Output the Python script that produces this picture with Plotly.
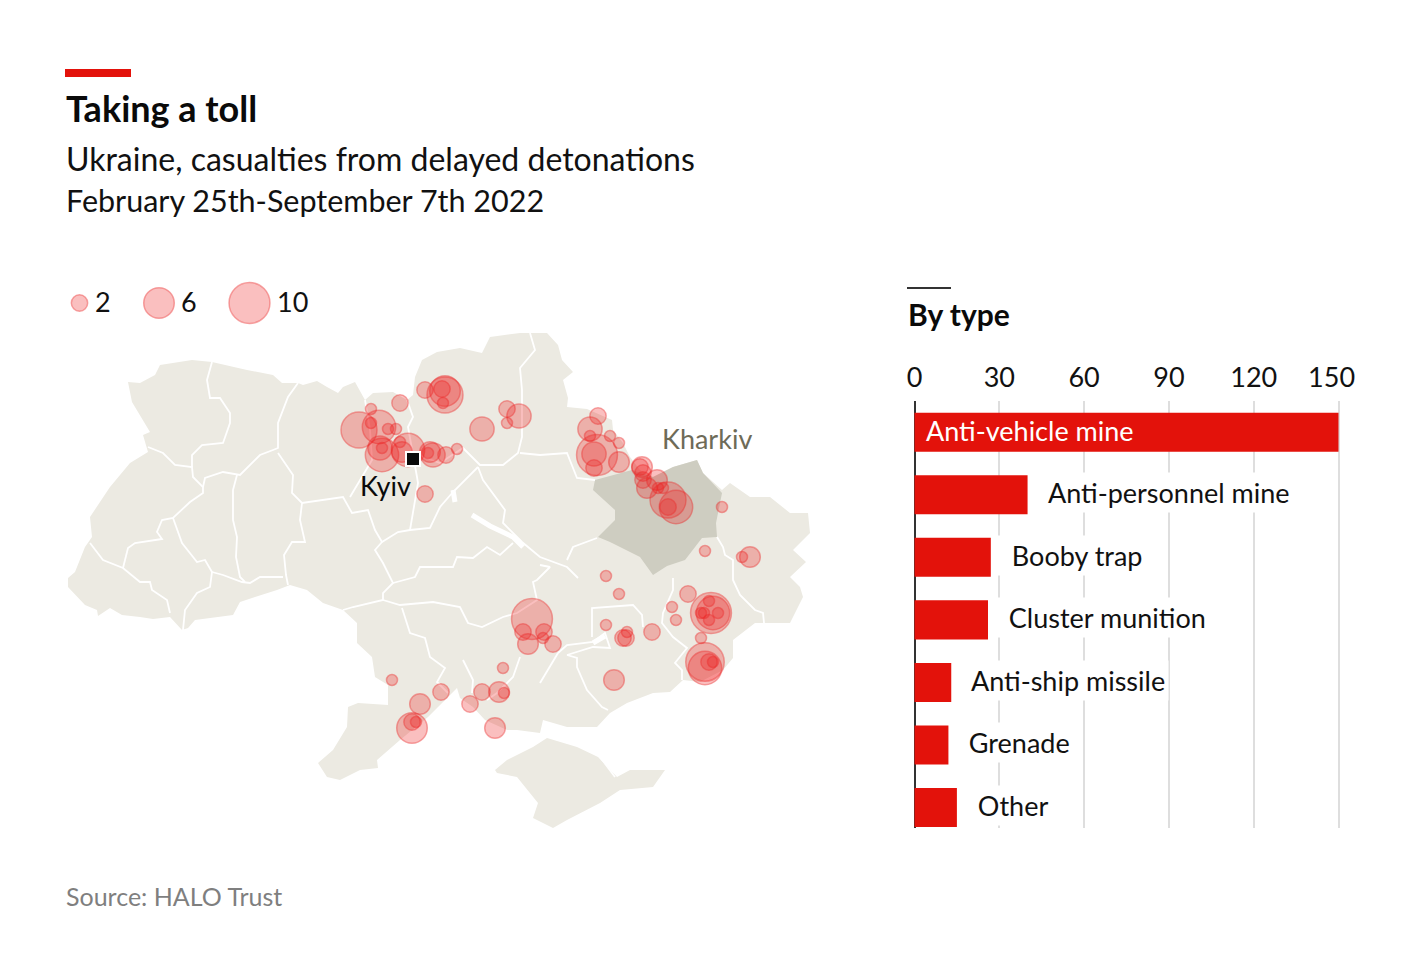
import plotly.graph_objects as go

FONT = 'Lato'
RED = '#E3120B'

# by type panel
types = ['Anti-vehicle mine', 'Anti-personnel mine', 'Booby trap', 'Cluster munition', 'Anti-ship missile', 'Grenade', 'Other']
type_counts = [150, 40, 27, 26, 13, 12, 15]
tick_vals = [0, 30, 60, 90, 120, 150]

# casualty circles, position (picture px), casualties estimated from circle area
circle_x = [359, 371, 371, 379, 400, 388, 396, 382, 380, 382, 402, 408, 400, 430, 433, 428, 446, 457, 425,
            425, 442, 445, 443, 445, 482, 507, 507, 519, 598, 590, 590, 610, 619, 597, 594, 594, 619,
            642, 640, 643, 643, 647, 657, 658, 663, 668, 676, 668, 722, 705, 750, 742,
            606, 619, 688, 672, 676, 606, 652, 627, 623, 626, 614, 532, 523, 544, 528, 543, 553,
            503, 482, 499, 504, 470, 495, 441, 392, 420, 412, 412, 416,
            711, 713, 709, 709, 718, 701, 704, 701, 705, 705, 709, 713]
circle_y = [430, 409, 423, 427, 403, 429, 429, 455, 448, 448, 452, 450, 442, 452, 455, 453, 455, 449, 494,
            390, 389, 395, 403, 391, 429, 409, 423, 416, 416, 429, 436, 436, 443, 455, 454, 468, 462,
            467, 467, 473, 480, 488, 480, 488, 488, 500, 507, 507, 507, 551, 557, 557,
            576, 594, 594, 607, 620, 625, 632, 632, 638, 638, 680, 619, 632, 632, 644, 638, 644,
            668, 692, 692, 693, 704, 728, 692, 680, 704, 728, 722, 722,
            613, 613, 601, 620, 613, 613, 613, 638, 662, 668, 662, 662]
casualties = [8, 1, 1, 7, 2, 1, 1, 7, 4, 1, 3, 7, 1, 3, 4, 1, 2, 1, 2,
              2, 2, 8, 1, 6, 4, 2, 1, 4, 2, 4, 1, 1, 1, 10, 4, 2, 3,
              3, 2, 2, 2, 3, 3, 1, 1, 8, 7, 2, 1, 1, 3, 1,
              1, 1, 2, 1, 1, 1, 2, 1, 2, 2, 3, 10, 2, 2, 3, 1, 2,
              1, 2, 3, 1, 2, 3, 2, 1, 3, 6, 2, 1,
              10, 7, 1, 1, 1, 1, 1, 1, 9, 7, 2, 1]
legend_vals = [2, 6, 10]

# map outlines
ukraine = [(128,382),(140,383),(155,375),(160,365),(192,360),(212,362),(247,370),(273,375),(282,383),(298,383),(303,385),
           (317,381),(327,387),(338,393),(343,387),(355,382),(365,400),(373,393),(393,392),(407,400),(413,395),(415,377),(422,360),
           (437,352),(460,348),(482,353),(490,337),(520,333),(530,333),(547,333),(558,345),(562,360),(573,372),(563,380),
           (568,398),(567,407),(587,409),(612,420),(613,430),(623,443),(630,457),(640,470),(653,477),(673,467),(697,460),(703,473),
           (722,490),(730,483),(750,497),(770,497),(790,513),(808,513),(810,533),(793,550),(806,562),(790,577),(800,587),
           (803,597),(790,623),(767,623),(755,623),(733,640),(733,658),(723,670),(700,682),(683,680),(670,692),(653,693),
           (627,703),(610,713),(597,727),(567,727),(543,720),(540,733),(517,730),(507,730),(485,720),(473,707),(460,698),
           (457,688),(443,702),(428,717),(400,740),(377,760),(378,768),(360,770),(340,780),(327,777),(318,763),(333,750),
           (347,727),(348,707),(358,703),(388,705),(388,685),(375,677),(372,657),(357,643),(357,623),(343,610),(323,603),
           (307,590),(290,585),(277,590),(255,597),(240,602),(233,615),(195,620),(188,628),(182,630),(170,617),(153,619),
           (140,617),(122,615),(110,608),(98,616),(97,610),(85,605),(68,587),(68,578),(75,572),(85,547),(92,537),(90,517),
           (110,487),(130,463),(148,452),(143,435),(150,432),(132,402)]
crimea = [(495,770),(507,760),(533,747),(547,738),(577,747),(598,757),(617,777),(630,770),(665,770),(653,787),(620,790),
          (600,803),(567,820),(553,828),(533,818),(538,803),(517,777),(497,773)]
kharkiv = [(595,480),(593,490),(615,510),(615,520),(598,537),(610,542),(640,557),(653,575),(667,566),(685,560),(702,538),
           (717,537),(716,523),(722,493),(703,473),(697,460),(673,467),(653,477),(632,470)]
borders = [
    [(212,362),(207,380),(210,398),(220,398),(230,413),(230,423),(223,443),(202,445),(192,455),(192,467)],
    [(298,383),(288,397),(278,423),(278,448),(273,450),(260,455),(240,475),(223,472),(205,478),(203,487)],
    [(148,447),(163,453),(175,465),(192,467),(193,477),(203,487),(203,493),(190,502),(173,518),(162,520),(157,532),(162,539),(135,543),(128,548),(123,568)],
    [(237,475),(233,490),(233,520),(237,537),(236,557),(240,577),(245,582)],
    [(278,453),(293,475),(292,493),(302,503),(343,497),(352,513),(368,510),(373,523),(375,530),(382,542),(375,550),(383,563),(393,583),(383,593),(383,600),(353,607),(343,610)],
    [(302,503),(300,520),(305,542),(292,542),(284,555),(286,575),(288,585)],
    [(90,543),(103,560),(123,568),(140,582),(150,582),(152,590),(167,600),(170,613)],
    [(173,518),(182,543),(197,562),(205,560),(212,572),(210,587),(197,593),(185,610),(183,630)],
    [(212,572),(223,575),(242,582),(250,583),(260,577),(283,577)],
    [(382,542),(398,532),(410,530),(430,528),(440,507),(453,492),(478,467)],
    [(393,583),(415,577),(420,567),(453,567),(457,557),(473,558),(487,547),(500,555),(513,543)],
    [(383,600),(400,605),(433,602),(460,607),(468,623),(482,627),(503,617),(517,613),(537,600),(533,582),(537,580),(550,567),(540,565)],
    [(402,608),(410,633),(425,638),(430,657),(445,668),(437,682),(448,693)],
    [(520,657),(513,677),(497,693),(487,700)],
    [(567,655),(577,658),(577,667),(587,690),(602,707),(608,710)],
    [(558,653),(567,645),(593,642),(605,633),(610,648),(593,647),(567,655)],
    [(592,637),(592,608),(633,605),(642,615),(643,627)],
    [(673,578),(673,590),(663,613),(662,623),(673,637),(687,648),(675,663),(682,670),(682,680)],
    [(717,537),(723,547),(725,555),(733,560),(733,580),(740,595),(755,610),(763,613),(764,623)],
    [(530,333),(535,350),(520,368),(522,390),(522,437),(518,453),(503,465),(480,465),(463,448),(440,463),(418,455)],
    [(520,453),(540,455),(567,453),(577,478),(595,480)],
    [(478,467),(483,480),(505,510),(503,523),(522,542),(540,557),(567,567),(578,578)],
    [(567,560),(573,547),(597,538)],
    [(407,400),(413,417),(408,427),(413,453),(417,477),(418,483),(410,530)],
    [(365,400),(370,430),(372,460),(360,480),(350,497)],
    [(463,660),(473,680),(472,693)],
    [(593,730),(600,757),(615,777)],
    [(558,653),(540,683)],
]
thick_water = [[(472,515),(490,526),(513,537),(523,547)], [(453,490),(455,502)], [(593,643),(605,636)]]


def radius(v):
    return 5.5 * v ** 0.57


def xs(pts):
    return [p[0] for p in pts]


def ys(pts):
    return [p[1] for p in pts]


def joined(lines, axis):
    out = []
    for ll in lines:
        out += [p[axis] for p in ll] + [None]
    return out


def label(x, y, text, size=27, color='#111111', anchor='left', bold=False, **kw):
    return dict(xref='x', yref='y', x=x, y=y, text='<b>' + text + '</b>' if bold else text, showarrow=False, borderpad=0,
                xanchor=anchor, yanchor='middle', font=dict(family=FONT, size=size, color=color), **kw)


fig = go.Figure()

# map
fig.add_trace(go.Scatter(x=xs(ukraine), y=ys(ukraine), fill='toself', fillcolor='#ECEAE2', mode='none', hoverinfo='skip'))
fig.add_trace(go.Scatter(x=xs(crimea), y=ys(crimea), fill='toself', fillcolor='#ECEAE2', mode='none', hoverinfo='skip'))
fig.add_trace(go.Scatter(x=xs(kharkiv), y=ys(kharkiv), fill='toself', fillcolor='#CECDC1', mode='none', hoverinfo='skip'))
fig.add_trace(go.Scatter(x=joined(borders, 0), y=joined(borders, 1), mode='lines', line=dict(color='white', width=1.8), hoverinfo='skip'))
fig.add_trace(go.Scatter(x=joined(thick_water, 0), y=joined(thick_water, 1), mode='lines', line=dict(color='white', width=5), hoverinfo='skip'))

circle_style = dict(color='rgba(240,30,30,0.4)', line=dict(color='rgba(235,40,40,0.6)', width=1.5))
fig.add_trace(go.Scatter(x=circle_x, y=circle_y, mode='markers', text=casualties,
                         marker=dict(size=[2 * radius(v) for v in casualties], **circle_style),
                         hovertemplate='%{text}<extra></extra>'))

# size legend
fig.add_trace(go.Scatter(x=[79.5, 159, 249.5], y=[303, 303, 303], mode='markers', hoverinfo='skip',
                         marker=dict(size=[2 * radius(v) for v in legend_vals], **circle_style)))

# Kyiv
fig.add_trace(go.Scatter(x=[413], y=[459], mode='markers', hoverinfo='skip',
                         marker=dict(symbol='square', size=14, color='#0A0A0A', line=dict(color='white', width=2))))

# bars
fig.add_trace(go.Bar(x=type_counts, y=types, orientation='h', xaxis='x2', yaxis='y2', width=0.624,
                     marker=dict(color=RED, line=dict(width=0))))

annotations = [
    label(65, 108, 'Taking a toll', size=36, color='#0A0A0A', bold=True),
    label(65, 158, 'Ukraine, casualties from delayed detonations', size=32),
    label(65, 200, 'February 25th-September 7th 2022', size=30.5),
    label(94, 301, '2'), label(180, 301, '6'), label(276, 301, '10'),
    label(385, 485, 'Kyiv', anchor='center', color='#0A0A0A'),
    label(707, 438, 'Kharkiv', anchor='center', color='#6E6B58'),
    label(907, 314, 'By type', size=30, color='#0A0A0A', bold=True),
    label(65, 896, 'Source: HALO Trust', size=25, color='#7F7F7F'),
    dict(xref='x2', yref='y2', x=0, y=types[0], text=types[0], showarrow=False, xanchor='left', xshift=9, yshift=2,
         font=dict(family=FONT, size=27, color='white')),
]
# the other bar labels sit on a white box which breaks the gridlines
for tt, cc in zip(types[1:], type_counts[1:]):
    annotations.append(dict(xref='x2', yref='y2', x=cc, y=tt, text='\u00a0\u00a0' + tt, showarrow=False, xanchor='left', xshift=3, yshift=2,
                            bgcolor='white', borderpad=3, font=dict(family=FONT, size=27, color='#111111')))

fig.update_layout(
    width=1420, height=977, margin=dict(l=0, r=0, t=0, b=0, autoexpand=False), showlegend=False,
    paper_bgcolor='white', plot_bgcolor='white', annotations=annotations,
    xaxis=dict(domain=[0, 1], range=[0, 1420], visible=False),
    yaxis=dict(domain=[0, 1], range=[977, 0], visible=False),
    xaxis2=dict(domain=[908.85 / 1420, 1344.15 / 1420], range=[-2, 152], anchor='y2', side='top',
                tickvals=tick_vals, ticktext=[str(t) for t in tick_vals[:-1]] + ['150\u00a0\u00a0'],
                showgrid=True, gridcolor='#DEDEDE', gridwidth=2,
                zeroline=True, zerolinecolor='#333333', zerolinewidth=2,
                ticks='outside', ticklen=2, tickcolor='rgba(0,0,0,0)',
                tickfont=dict(family=FONT, size=27, color='#111111')),
    yaxis2=dict(domain=[1 - 827.5 / 977, 1 - 401 / 977], range=[6.32, -0.5], anchor='x2', type='category',
                categoryorder='array', categoryarray=types, visible=False),
    shapes=[
        dict(type='rect', xref='x', yref='y', x0=65, x1=131, y0=69, y1=77, fillcolor=RED, line=dict(width=0)),
        dict(type='line', xref='x', yref='y', x0=907, x1=951, y0=288, y1=288, line=dict(color='#333333', width=2)),
    ],
)

fig.write_html('out.html', config={'displayModeBar': False}, post_script="document.body.style.margin='0'")
